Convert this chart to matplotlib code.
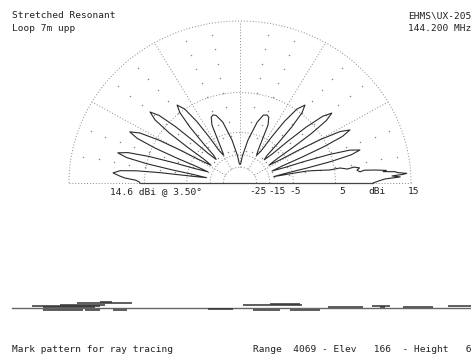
import numpy as np
import matplotlib
matplotlib.use("Agg")
import matplotlib.pyplot as plt

# ---------------- data ----------------
TITLE_LEFT = ["Stretched Resonant", "Loop 7m upp"]
TITLE_RIGHT = ["EHMS\\UX-205", "144.200 MHz"]
MAX_LABEL = "14.6 dBi @ 3.50\u00b0"
FOOT_LEFT = "Mark pattern for ray tracing"
FOOT_RIGHT = "Range  4069 - Elev   166  - Height   6"

OUTER_DBI = 15
RING_DBI = [-25, -15, -5, 5, 15]
RING_LABELS = ["-25", "-15", "-5", "5", "15"]
UNIT_LABEL = "dBi"
SPOKE_MAJOR = [30, 60, 90, 120, 150]
SPOKE_MINOR = [10, 20, 40, 50, 70, 80, 100, 110, 130, 140, 160, 170]

# elevation pattern (degrees, dBi), traversed from 0 to 180 deg
ELEV = [0, 1.0, 1.7, 2.3, 2.8, 3.2, 3.5, 4.0, 4.4, 4.8, 5.2, 5.8, 6.2, 5.6, 6.6, 7.6, 8.4, 7.8, 9.0, 8.7, 10.0, 10.7, 11.0, 11.3,
        12.67, 13.26, 14.0, 14.97, 16.2, 17.55, 18.63, 19.44, 20.09, 21.6,
        23.11, 23.76, 24.57, 25.65, 27.0, 28.5, 29.7, 30.6, 31.32, 33.0,
        34.62, 35.32, 36.19, 37.35, 38.8, 40.43, 41.73, 42.7, 43.48, 45.3,
        47.09, 47.86, 48.82, 50.1, 51.7, 53.9, 55.66, 56.98, 58.04, 60.5,
        62.5, 64, 65.4, 67.5, 69.4, 72, 75, 80, 85, 88, 90,
        92, 95, 100, 105, 108.5, 110.6, 112.5, 114.6, 116, 117.5, 119,
        121.35, 122.36, 123.62, 125.3, 127.4, 129.0, 130.28, 131.24, 132.01, 133.8,
        135.59, 136.36, 137.32, 138.6, 140.2, 141.9, 143.26, 144.28, 145.1, 147.0,
        148.93, 149.76, 150.8, 152.18, 153.9, 155.38, 156.56, 157.44, 158.15, 159.8,
        161.37, 162.04, 162.88, 164.0, 165.4, 166.68, 167.7, 168.46, 169.07, 170.5,
        171.6, 172.2, 172.9, 173.8, 175.2, 176.5, 177.4, 178.3, 179.2, 180]
GAIN = [10.7, 11.5, 12.2, 13.9, 13.0, 14.2, 14.6, 13.6, 13.4, 12.0, 12.4, 11.0, 9.6, 9.0, 8.6, 9.0, 8.2, 7.2, 6.0, 4.2, 1.0, -0.8, -6.0, -12.5,
        -7.0, -0.7, 4.7, 8.2, 9.6, 8.2, 4.7, -0.7, -7.0, -12.5,
        -7.2, -0.9, 4.5, 8.0, 9.4, 8.0, 4.5, -0.9, -7.2, -12.5,
        -8.0, -1.7, 3.7, 7.2, 8.6, 7.2, 3.7, -1.7, -8.0, -12.5,
        -10.0, -3.7, 1.7, 5.2, 6.6, 5.2, 1.7, -3.7, -10.0, -13.0,
        -10.0, -6.0, -1.0, 0.9, 1.25, 0.9, -1.2, -7.5, -15.4, -21.4, -22.2,
        -21.4, -15.4, -7.5, -1.2, 0.9, 1.25, 0.9, -1.0, -6.0, -10.0, -13.0,
        -10.2, -3.9, 1.5, 5.0, 6.4, 5.0, 1.5, -3.9, -10.2, -12.5,
        -8.1, -1.8, 3.6, 7.1, 8.5, 7.1, 3.6, -1.8, -8.1, -12.5,
        -7.3, -1.0, 4.4, 7.9, 9.3, 7.9, 4.4, -1.0, -7.3, -12.5,
        -6.8, -0.5, 4.9, 8.4, 9.8, 8.4, 4.9, -0.5, -6.8, -12.5,
        -6.0, 2.0, 6.5, 9.0, 9.95, 9.0, 8.2, 6.6, 6.0, 5.8]

# ray-tracing strip: horizontal marks (start, end, level)
STRIP_START = [32, 43, 60, 77, 100, 43, 85, 113, 208, 243, 270, 253, 290, 328, 372, 380, 403, 448]
STRIP_END = [100, 95, 105, 132, 112, 83, 100, 127, 233, 302, 300, 280, 320, 363, 390, 385, 433, 471]
STRIP_LEVEL = [2.5, 1.2, 3.5, 5.5, 6.5, -1.5, -1.5, -2.0, -1.0, 3.5, 4.5, -1.5, -1.5, 0.8, 2.5, 1.5, 0.8, 1.8]
STRIP_RANGE = [12, 471]

# label nudges (pixels) for the ring labels
LABEL_NUDGE = [1.5, 7, 1.5, 7, 2.5]


def to_r(g):
    # ARRL-style log scale: 0.89 per 2 dB
    return 0.89 ** ((OUTER_DBI - np.asarray(g, dtype=float)) / 2.0)


W, H = 471, 354
fig = plt.figure(figsize=(W / 100, H / 100), dpi=100)
fig.patch.set_facecolor("white")
FONT = dict(family="DejaVu Sans Mono", fontsize=6.8, color="#222222")
PT = 72 / 100  # points per pixel


def px(x, y):
    return x / W, 1 - y / H


# ---------------- polar pattern (drawn in a cartesian frame) ----------------
cx, cy, rx, ry = 240, 183, 171, 162
ax = fig.add_axes([(cx - rx) / W, (H - cy) / H, 2 * rx / W, ry / H])
ax.set_xlim(-1, 1)
ax.set_ylim(0, 1)
ax.axis("off")

grid_kw = dict(color="#8a8a8a", lw=0.7, ls=(0, (1, 2)), clip_on=False)
t = np.linspace(0, np.pi, 300)
for g in RING_DBI:
    r = to_r(g)
    ax.plot(r * np.cos(t), r * np.sin(t), **grid_kw)
ax.plot([-1, 1], [0, 0], **grid_kw)
r_in = to_r(RING_DBI[0])
for a in SPOKE_MAJOR:
    th = np.radians(a)
    ax.plot([r_in * np.cos(th), np.cos(th)], [r_in * np.sin(th), np.sin(th)], **grid_kw)
dot_r = np.arange(0.93, 0.15, -0.091)
for a in SPOKE_MINOR:
    th = np.radians(a)
    ax.scatter(dot_r * np.cos(th), dot_r * np.sin(th), s=1.2, color="#8a8a8a", lw=0, clip_on=False)

th = np.radians(ELEV)
rr = to_r(GAIN)
ax.plot(rr * np.cos(th), rr * np.sin(th), color="#2a2a2a", lw=0.8, clip_on=False)
# closing line along the ground through the origin
ax.plot([rr[-1] * np.cos(th[-1]), rr[0] * np.cos(th[0])], [0, 0], color="#444444", lw=0.9, clip_on=False)

# ring labels
for g, lab, nud in zip(RING_DBI, RING_LABELS, LABEL_NUDGE):
    ax.annotate(lab, (to_r(g), 0), xytext=(nud * PT, -8.5 * PT), textcoords="offset points",
                ha="center", va="center", annotation_clip=False, **FONT)
ax.annotate(UNIT_LABEL, ((to_r(RING_DBI[-2]) + to_r(RING_DBI[-1])) / 2, 0), xytext=(4 * PT, -8.5 * PT),
            textcoords="offset points", ha="center", va="center", annotation_clip=False, **FONT)

fig.text(*px(110, 191.5), MAX_LABEL, ha="left", va="center", **FONT)

# ---------------- titles ----------------
fig.text(*px(12, 16), TITLE_LEFT[0], ha="left", va="center", **FONT)
fig.text(*px(12, 28.5), TITLE_LEFT[1], ha="left", va="center", **FONT)
fig.text(*px(408, 16), TITLE_RIGHT[0], ha="left", va="center", **FONT)
fig.text(*px(408, 28.5), TITLE_RIGHT[1], ha="left", va="center", **FONT)

# ---------------- ray tracing strip ----------------
ax2 = fig.add_axes([0, (H - 318) / H, 1, 20 / H])
ax2.set_xlim(0, W)
ax2.set_ylim(-10, 10)
ax2.axis("off")
ax2.plot(STRIP_RANGE, [0, 0], color="#666666", lw=1.0)
ax2.hlines(STRIP_LEVEL, STRIP_START, STRIP_END, color="#333333", lw=1.1)

fig.text(*px(12, 349.5), FOOT_LEFT, ha="left", va="center", **FONT)
fig.text(*px(253, 349.5), FOOT_RIGHT, ha="left", va="center", **FONT)

fig.savefig("out.png", dpi=100, facecolor="white")
